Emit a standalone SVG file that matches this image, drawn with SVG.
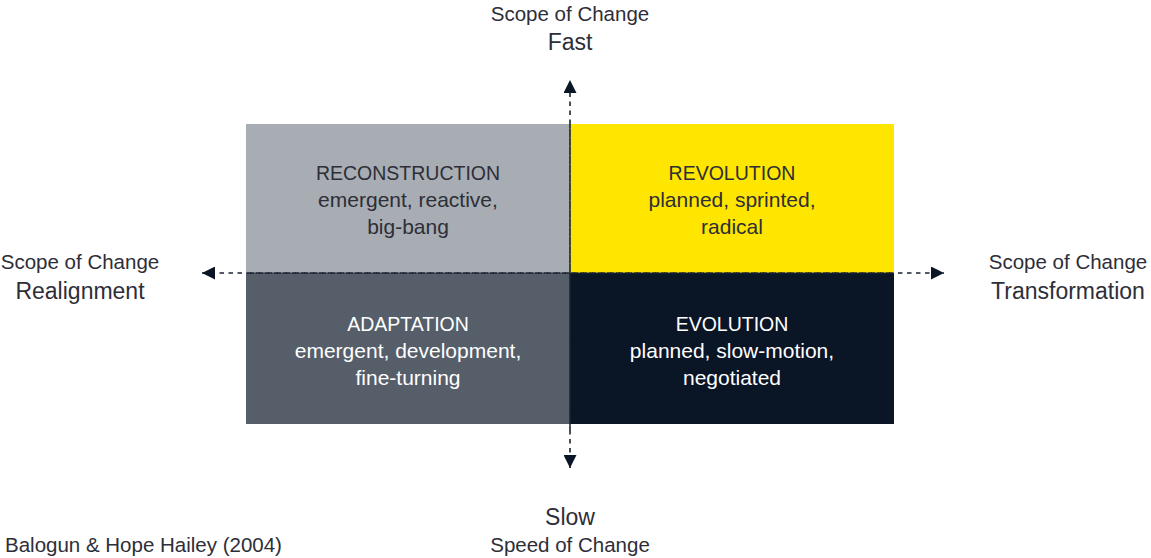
<svg xmlns="http://www.w3.org/2000/svg" width="1151" height="558" viewBox="0 0 1151 558">
<style>
text{font-family:"Liberation Sans",Arial,sans-serif;text-anchor:middle}
.l{font-size:20.5px;fill:#2e2e38}
.b{font-size:23px;fill:#2e2e38}
.u{font-size:19.5px}
.q{font-size:21px}
.dk{fill:#2e2e38}
.wh{fill:#ffffff}
.ax{stroke:#1a2233;stroke-width:1.6;stroke-dasharray:4.5 4.5;fill:none}
</style>
<defs>
<marker id="ah" viewBox="0 0 10 10" refX="10" refY="5" markerWidth="13" markerHeight="13" markerUnits="userSpaceOnUse" orient="auto">
<path d="M0,0 L10,5 L0,10 Z" fill="#0a1526"/>
</marker>
</defs>
<rect width="1151" height="558" fill="#ffffff"/>
<g id="reconstruction">
<rect x="246" y="124" width="324" height="149" fill="#a7adb3"/>
<text class="u dk" x="408" y="180">RECONSTRUCTION</text>
<text class="q dk" x="408" y="207">emergent, reactive,</text>
<text class="q dk" x="408" y="234">big-bang</text>
</g>
<g id="revolution">
<rect x="570" y="124" width="324" height="149" fill="#ffe600"/>
<text class="u dk" x="732" y="180">REVOLUTION</text>
<text class="q dk" x="732" y="207">planned, sprinted,</text>
<text class="q dk" x="732" y="234">radical</text>
</g>
<g id="adaptation">
<rect x="246" y="273" width="324" height="151" fill="#565e6a"/>
<text class="u wh" x="408" y="331">ADAPTATION</text>
<text class="q wh" x="408" y="358">emergent, development,</text>
<text class="q wh" x="408" y="385">fine-turning</text>
</g>
<g id="evolution">
<rect x="570" y="273" width="324" height="151" fill="#0a1526"/>
<text class="u wh" x="732" y="331">EVOLUTION</text>
<text class="q wh" x="732" y="358">planned, slow-motion,</text>
<text class="q wh" x="732" y="385">negotiated</text>
</g>
<g id="connectors">
<line class="ax" x1="570" y1="430" x2="570" y2="80" marker-end="url(#ah)"/>
<line class="ax" x1="570" y1="124" x2="570" y2="468" marker-end="url(#ah)"/>
<line class="ax" x1="890" y1="273" x2="202" y2="273" marker-end="url(#ah)"/>
<line class="ax" x1="250" y1="273" x2="944" y2="273" marker-end="url(#ah)"/>
</g>
<g id="label-top">
<text class="l" x="570" y="21">Scope of Change</text>
<text class="b" x="570" y="50">Fast</text>
</g>
<g id="label-left">
<text class="l" x="80" y="269">Scope of Change</text>
<text class="b" x="80" y="299">Realignment</text>
</g>
<g id="label-right">
<text class="l" x="1068" y="269">Scope of Change</text>
<text class="b" x="1068" y="299">Transformation</text>
</g>
<g id="label-bottom">
<text class="b" x="570" y="525">Slow</text>
<text class="l" x="570" y="552">Speed of Change</text>
</g>
<text class="l" x="5" y="552" style="text-anchor:start">Balogun &amp; Hope Hailey (2004)</text>
</svg>
